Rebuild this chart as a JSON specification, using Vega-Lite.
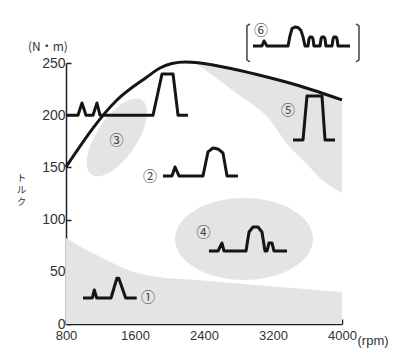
{
  "$schema": "https://vega.github.io/schema/vega-lite/v6.json",
  "width": 276,
  "height": 261,
  "autosize": {"type": "none"},
  "padding": {"left": 66, "top": 63, "right": 58, "bottom": 31},
  "background": "white",
  "config": {"view": {"stroke": null}, "font": "Liberation Sans"},
  "datasets": {
    "curve": [
      {"rpm": 800, "t": 150.4}, {"rpm": 1391, "t": 214.6}, {"rpm": 1739, "t": 236.6}, {"rpm": 1890, "t": 245.2},
      {"rpm": 2029, "t": 249.6}, {"rpm": 2180, "t": 251}, {"rpm": 2354, "t": 250}, {"rpm": 2736, "t": 244.3},
      {"rpm": 3130, "t": 236.6}, {"rpm": 3513, "t": 228}, {"rpm": 4000, "t": 214.6}
    ],
    "low": [
      {"rpm": 800, "t": 82.4}, {"rpm": 1000, "t": 72.5}, {"rpm": 1194, "t": 64.5}, {"rpm": 1577, "t": 50},
      {"rpm": 1971, "t": 44}, {"rpm": 2354, "t": 42}, {"rpm": 3200, "t": 36}, {"rpm": 4000, "t": 30.6}
    ],
    "high": [
      {"rpm": 2296, "t": 250.3, "t2": 250.5}, {"rpm": 2759, "t": 222.3, "t2": 244.4}, {"rpm": 3165, "t": 195.4, "t2": 236.3},
      {"rpm": 3374, "t": 171.5, "t2": 231.6}, {"rpm": 3571, "t": 155.2, "t2": 226.9}, {"rpm": 3745, "t": 139.9, "t2": 222.1},
      {"rpm": 4000, "t": 125.5, "t2": 215.1}
    ],
    "ell3": [{"rpm": 1391, "t": 178.7}],
    "ell4": [{"rpm": 2864, "t": 81.4}],
    "glyphs": [
      {"g": "A", "i": 1, "rpm": 810, "t": 200}, {"g": "A", "i": 2, "rpm": 939, "t": 200}, {"g": "A", "i": 3, "rpm": 985, "t": 211.7},
      {"g": "A", "i": 4, "rpm": 1032, "t": 200}, {"g": "A", "i": 5, "rpm": 1113, "t": 200}, {"g": "A", "i": 6, "rpm": 1159, "t": 211.7},
      {"g": "A", "i": 7, "rpm": 1194, "t": 200}, {"g": "A", "i": 8, "rpm": 1809, "t": 200}, {"g": "A", "i": 9, "rpm": 1913, "t": 239.5},
      {"g": "A", "i": 10, "rpm": 2041, "t": 239.5}, {"g": "A", "i": 11, "rpm": 2099, "t": 200}, {"g": "A", "i": 12, "rpm": 2214, "t": 200},
      {"g": "1", "i": 1, "rpm": 997, "t": 24.9}, {"g": "1", "i": 2, "rpm": 1105, "t": 24.9}, {"g": "1", "i": 3, "rpm": 1128, "t": 32.6},
      {"g": "1", "i": 4, "rpm": 1156, "t": 24.9}, {"g": "1", "i": 5, "rpm": 1322, "t": 24.9}, {"g": "1", "i": 6, "rpm": 1390, "t": 43.8},
      {"g": "1", "i": 7, "rpm": 1412, "t": 43.8}, {"g": "1", "i": 8, "rpm": 1492, "t": 24.9}, {"g": "1", "i": 9, "rpm": 1620, "t": 24.9},
      {"g": "2", "i": 1, "rpm": 1925, "t": 141.8}, {"g": "2", "i": 2, "rpm": 2029, "t": 141.8}, {"g": "2", "i": 3, "rpm": 2064, "t": 150.4},
      {"g": "2", "i": 4, "rpm": 2110, "t": 141.8}, {"g": "2", "i": 5, "rpm": 2388, "t": 141.8}, {"g": "2", "i": 6, "rpm": 2446, "t": 164.8},
      {"g": "2", "i": 7, "rpm": 2504, "t": 168.6}, {"g": "2", "i": 8, "rpm": 2562, "t": 167.7}, {"g": "2", "i": 9, "rpm": 2620, "t": 163.8},
      {"g": "2", "i": 10, "rpm": 2667, "t": 141.8}, {"g": "2", "i": 11, "rpm": 2794, "t": 141.8},
      {"g": "4", "i": 1, "rpm": 2458, "t": 69.9}, {"g": "4", "i": 2, "rpm": 2562, "t": 69.9}, {"g": "4", "i": 3, "rpm": 2609, "t": 77.6},
      {"g": "4", "i": 4, "rpm": 2632, "t": 69.9}, {"g": "4", "i": 5, "rpm": 2887, "t": 69.9}, {"g": "4", "i": 6, "rpm": 2922, "t": 88.1},
      {"g": "4", "i": 7, "rpm": 2968, "t": 92.9}, {"g": "4", "i": 8, "rpm": 3026, "t": 92.9}, {"g": "4", "i": 9, "rpm": 3072, "t": 88.1},
      {"g": "4", "i": 10, "rpm": 3107, "t": 69.9}, {"g": "4", "i": 11, "rpm": 3130, "t": 69.9}, {"g": "4", "i": 12, "rpm": 3154, "t": 77.6},
      {"g": "4", "i": 13, "rpm": 3188, "t": 77.6}, {"g": "4", "i": 14, "rpm": 3212, "t": 69.9}, {"g": "4", "i": 15, "rpm": 3362, "t": 69.9},
      {"g": "5", "i": 1, "rpm": 3432, "t": 176.3}, {"g": "5", "i": 2, "rpm": 3548, "t": 176.3}, {"g": "5", "i": 3, "rpm": 3594, "t": 218.4},
      {"g": "5", "i": 4, "rpm": 3768, "t": 218.4}, {"g": "5", "i": 5, "rpm": 3803, "t": 176.3}, {"g": "5", "i": 6, "rpm": 3919, "t": 176.3},
      {"g": "6", "i": 1, "rpm": 2968, "t": 266.3}, {"g": "6", "i": 2, "rpm": 3072, "t": 266.3}, {"g": "6", "i": 3, "rpm": 3096, "t": 271.1},
      {"g": "6", "i": 4, "rpm": 3130, "t": 266.3}, {"g": "6", "i": 5, "rpm": 3374, "t": 266.3}, {"g": "6", "i": 6, "rpm": 3397, "t": 276},
      {"g": "6", "i": 7, "rpm": 3420, "t": 283}, {"g": "6", "i": 8, "rpm": 3455, "t": 284.5}, {"g": "6", "i": 9, "rpm": 3490, "t": 284},
      {"g": "6", "i": 10, "rpm": 3525, "t": 281}, {"g": "6", "i": 11, "rpm": 3548, "t": 275}, {"g": "6", "i": 12, "rpm": 3571, "t": 266.3},
      {"g": "6", "i": 13, "rpm": 3606, "t": 266.3}, {"g": "6", "i": 14, "rpm": 3617, "t": 273}, {"g": "6", "i": 15, "rpm": 3630, "t": 275},
      {"g": "6", "i": 16, "rpm": 3652, "t": 275}, {"g": "6", "i": 17, "rpm": 3664, "t": 273}, {"g": "6", "i": 18, "rpm": 3675, "t": 266.3},
      {"g": "6", "i": 19, "rpm": 3745, "t": 266.3}, {"g": "6", "i": 20, "rpm": 3757, "t": 273}, {"g": "6", "i": 21, "rpm": 3768, "t": 275},
      {"g": "6", "i": 22, "rpm": 3791, "t": 275}, {"g": "6", "i": 23, "rpm": 3803, "t": 273}, {"g": "6", "i": 24, "rpm": 3814, "t": 266.3},
      {"g": "6", "i": 25, "rpm": 3884, "t": 266.3}, {"g": "6", "i": 26, "rpm": 3896, "t": 273}, {"g": "6", "i": 27, "rpm": 3907, "t": 275},
      {"g": "6", "i": 28, "rpm": 3930, "t": 275}, {"g": "6", "i": 29, "rpm": 3942, "t": 273}, {"g": "6", "i": 30, "rpm": 3954, "t": 266.3},
      {"g": "6", "i": 31, "rpm": 4093, "t": 266.3}
    ],
    "brackets": [
      {"b": "L", "i": 1, "rpm": 2933, "t": 287.4}, {"b": "L", "i": 2, "rpm": 2898, "t": 285.5},
      {"b": "L", "i": 3, "rpm": 2898, "t": 252.9}, {"b": "L", "i": 4, "rpm": 2933, "t": 251},
      {"b": "R", "i": 1, "rpm": 4162, "t": 287.4}, {"b": "R", "i": 2, "rpm": 4197, "t": 285.5},
      {"b": "R", "i": 3, "rpm": 4197, "t": 252.9}, {"b": "R", "i": 4, "rpm": 4162, "t": 251}
    ],
    "labels": [
      {"rpm": 1751, "t": 25.2, "label": "①"}, {"rpm": 1774, "t": 140.8, "label": "②"},
      {"rpm": 1385, "t": 175.3, "label": "③"}, {"rpm": 2394, "t": 86.7, "label": "④"},
      {"rpm": 3374, "t": 204.5, "label": "⑤"}, {"rpm": 3061, "t": 280.2, "label": "⑥"}
    ],
    "unit": [{"rpm": 591, "t": 265, "label": "(N・m)"}]
  },
  "encoding": {
    "x": {
      "field": "rpm", "type": "quantitative",
      "scale": {"domain": [800, 4000], "nice": false, "zero": false},
      "axis": {
        "values": [800, 1600, 2400, 3200, 4000], "format": "d", "labelFlush": false, "labelOverlap": false, "grid": false,
        "domainColor": "#222", "domainWidth": 1.5, "tickColor": "#222", "tickWidth": 1.5, "tickSize": -5,
        "labelFontSize": 13, "labelColor": "#333", "labelPadding": 10, "labelFont": "Liberation Sans",
        "title": "(rpm)", "titleX": 291, "titleY": 16, "titleAlign": "left", "titleBaseline": "middle",
        "titleFontWeight": "normal", "titleFontSize": 13, "titleColor": "#333", "titleFont": "Liberation Sans"
      }
    },
    "y": {
      "field": "t", "type": "quantitative",
      "scale": {"domain": [0, 250], "nice": false},
      "axis": {
        "values": [0, 50, 100, 150, 200, 250], "labelFlush": false, "labelOverlap": false, "grid": false,
        "domainColor": "#222", "domainWidth": 1.5, "tickColor": "#222", "tickWidth": 1.5, "tickSize": -5,
        "labelFontSize": 14, "labelColor": "#333", "labelPadding": 6, "labelFont": "Liberation Sans",
        "title": ["ト", "ル", "ク"], "titleAngle": 0, "titleX": -45, "titleY": 109, "titleAlign": "center",
        "titleBaseline": "top", "titleLineHeight": 12, "titleFontSize": 9.5, "titleFontWeight": "normal",
        "titleFont": "Noto Sans CJK JP", "titleColor": "#333"
      }
    }
  },
  "layer": [
    {"data": {"name": "low"}, "mark": {"type": "area", "color": "#e4e4e4", "interpolate": "monotone"}},
    {"data": {"name": "high"}, "mark": {"type": "area", "color": "#e4e4e4", "interpolate": "monotone"},
     "encoding": {"y2": {"field": "t2"}}},
    {"data": {"name": "ell3"}, "mark": {"type": "point", "filled": true, "fill": "#e4e4e4", "strokeWidth": 0, "opacity": 1, "size": 8100, "angle": 34,
      "shape": "M0,-1C0.245,-1,0.444,-0.552,0.444,0C0.444,0.552,0.245,1,0,1C-0.245,1,-0.444,0.552,-0.444,0C-0.444,-0.552,-0.245,-1,0,-1Z"}},
    {"data": {"name": "ell4"}, "mark": {"type": "point", "filled": true, "fill": "#e4e4e4", "strokeWidth": 0, "opacity": 1, "size": 19044,
      "shape": "M-1,0C-1,-0.328,-0.552,-0.594,0,-0.594C0.552,-0.594,1,-0.328,1,0C1,0.328,0.552,0.594,0,0.594C-0.552,0.594,-1,0.328,-1,0Z"}},
    {"data": {"name": "curve"}, "mark": {"type": "line", "color": "#151515", "strokeWidth": 3, "interpolate": "monotone"}},
    {"data": {"name": "glyphs"}, "mark": {"type": "line", "color": "#151515", "strokeWidth": 3, "strokeJoin": "round"},
     "encoding": {"detail": {"field": "g"}, "order": {"field": "i", "type": "quantitative"}}},
    {"data": {"name": "brackets"}, "mark": {"type": "line", "color": "#444", "strokeWidth": 1.5, "strokeJoin": "round"},
     "encoding": {"detail": {"field": "b"}, "order": {"field": "i", "type": "quantitative"}}},
    {"data": {"name": "labels"}, "mark": {"type": "text", "font": "Noto Sans CJK JP", "fontSize": 14, "color": "#444", "align": "center", "baseline": "middle"},
     "encoding": {"text": {"field": "label"}}},
    {"data": {"name": "unit"}, "mark": {"type": "text", "font": "Noto Sans CJK JP", "fontSize": 12, "color": "#333", "align": "center", "baseline": "middle"},
     "encoding": {"text": {"field": "label"}}}
  ]
}
